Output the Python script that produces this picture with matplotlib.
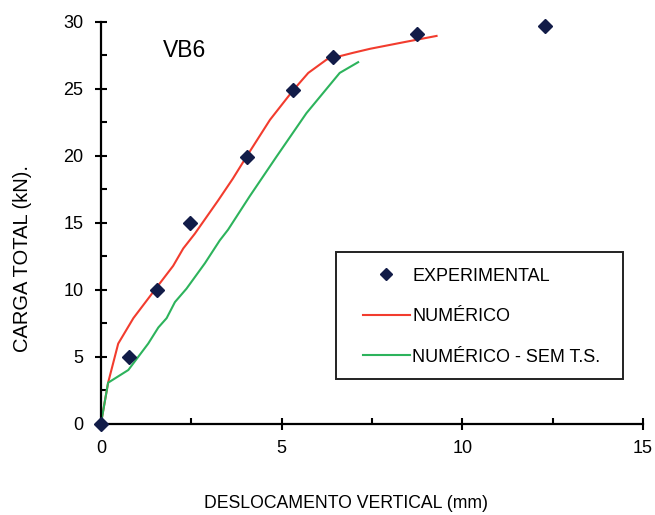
import matplotlib.pyplot as plt
from matplotlib.patches import Rectangle
from matplotlib.ticker import MultipleLocator

plt.rcParams['font.family'] = ['Liberation Sans', 'DejaVu Sans']

# experimental points
exp_x = [0.0, 0.78, 1.55, 2.46, 4.04, 5.31, 6.42, 8.74, 12.29]
exp_y = [0.0, 5.0, 10.0, 15.0, 19.9, 24.9, 27.4, 29.1, 29.7]

# numerico
num_x = [0.0, 0.2, 0.48, 0.9, 1.49, 2.0, 2.28, 2.6, 3.25, 3.65, 4.03, 4.68, 5.32, 5.74, 6.25, 6.98, 7.45, 8.4, 9.29]
num_y = [0.0, 3.08, 6.0, 7.9, 10.0, 11.8, 13.1, 14.2, 16.7, 18.3, 19.95, 22.7, 24.9, 26.2, 27.2, 27.7, 28.0, 28.5, 28.96]

# numerico - sem t.s.
sem_x = [0.0, 0.2, 0.76, 1.31, 1.59, 1.82, 2.05, 2.37, 2.88, 3.29, 3.52, 4.12, 4.86, 5.69, 6.61, 7.12]
sem_y = [0.0, 3.08, 4.03, 6.0, 7.2, 7.9, 9.1, 10.1, 12.0, 13.7, 14.5, 17.0, 19.95, 23.2, 26.2, 27.0]

fig = plt.figure(figsize=(6.55, 5.15), dpi=100)
ax = fig.add_axes([0.154, 0.1767, 0.8275, 0.7806])

ax.plot(num_x, num_y, color='#f23c2e', lw=1.5, label='NUMÉRICO', zorder=2)
ax.plot(sem_x, sem_y, color='#2db35c', lw=1.5, label='NUMÉRICO - SEM T.S.', zorder=2)
ax.plot(exp_x, exp_y, ls='none', marker='D', ms=7.5, color='#121c48',
        label='EXPERIMENTAL', zorder=3, clip_on=False)

ax.set_xlim(0, 15)
ax.set_ylim(0, 30)
ax.xaxis.set_major_locator(MultipleLocator(5))
ax.xaxis.set_minor_locator(MultipleLocator(2.5))
ax.yaxis.set_major_locator(MultipleLocator(5))
ax.yaxis.set_minor_locator(MultipleLocator(2.5))
ax.tick_params(which='major', direction='inout', length=9, width=1.5, labelsize=13)
ax.tick_params(axis='x', which='major', pad=7)
ax.tick_params(axis='y', which='major', pad=8)
ax.tick_params(which='minor', direction='in', length=4, width=1.5)

for s in ['top', 'right']:
    ax.spines[s].set_visible(False)
for s in ['left', 'bottom']:
    ax.spines[s].set_linewidth(1.6)

ax.text(1.72, 27.9, 'VB6', fontsize=16.5, ha='left', va='center')

fig.text(23 / 655, 1 - 258 / 515, 'CARGA TOTAL (kN).', rotation=90,
         ha='center', va='center', fontsize=14.5)
fig.text(346 / 655, 1 - 503 / 515, 'DESLOCAMENTO VERTICAL (mm)',
         ha='center', va='center', fontsize=12.7)

# legend box
ax.add_patch(Rectangle((0.434, 0.112), 0.529, 0.316, transform=ax.transAxes,
                       fill=False, edgecolor='#222222', lw=1.4, zorder=4))
h, l = ax.get_legend_handles_labels()
order = [2, 0, 1]
ax.legend([h[i] for i in order], [l[i] for i in order], frameon=False,
          loc='upper left', bbox_to_anchor=(0.46, 0.42), borderaxespad=0,
          fontsize=13, handlelength=2.6, handletextpad=0.15,
          labelspacing=1.3, borderpad=0.7, markerscale=0.8)

fig.savefig('out.png', dpi=100)
